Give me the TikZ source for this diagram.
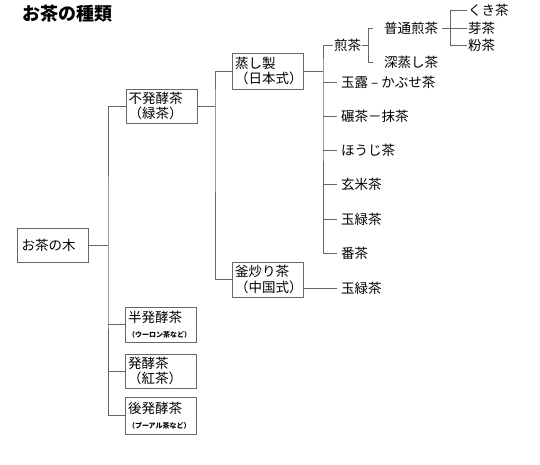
\documentclass[tikz,border=0pt]{standalone}
\usepackage{fontspec}
\setmainfont{Noto Sans CJK JP}
\begin{document}
\begin{tikzpicture}[x=1pt,y=-1pt,
  box/.style={draw=black!60, line width=0.8pt, text width=66pt, inner xsep=2.5pt, inner ysep=0pt,
    minimum height=35pt, align=left, font=\fontsize{13.5}{15.5}\selectfont},
  lbl/.style={anchor=west, inner xsep=4pt, inner ysep=2pt, font=\fontsize{13.5}{15.5}\selectfont},
  conn/.style={draw=black!60, line width=0.8pt},
  small/.style={font=\fontsize{7}{8}\selectfont\bfseries}
]
\useasboundingbox (0,0) rectangle (540,465);
\node[anchor=west, inner sep=0pt, font=\fontsize{18}{20}\selectfont\bfseries] (title) at (22,14) {お茶の種類};

% boxes
\node[box, text width=63pt, inner xsep=4pt, minimum height=34pt] (tree) at (53,245) {お茶の木};
\node[box, minimum height=34pt] (fuh) at (161.5,106) {不発酵茶\\（緑茶）};
\node[box, minimum height=36pt] (mushi) at (268,71) {蒸し製\\（日本式）};
\node[box] (kama) at (268,279.5) {釜炒り茶\\（中国式）};
\node[box] (han) at (161,324.5) {半発酵茶\\{\fontsize{7}{8}\selectfont\bfseries（ウーロン茶など）}};
\node[box, minimum height=34pt] (hak) at (161,371) {発酵茶\\（紅茶）};
\node[box, minimum height=37pt] (kou) at (161,415.5) {後発酵茶\\{\fontsize{7}{8}\selectfont\bfseries（プーアル茶など）}};

% junctions
\coordinate (j1) at (108,245);
\coordinate (j2) at (215,106);
\coordinate (j3) at (323,71);
\coordinate (j4) at (368,45);
\coordinate (j5) at (450,28);

% labels
\node[lbl, inner xsep=1pt] (sencha) at (333,45) {煎茶};
\node[lbl, inner xsep=1pt] (futsu) at (383,28) {普通煎茶};
\node[lbl, inner xsep=1pt] (fukamushi) at (383,62) {深蒸し茶};
\node[lbl, inner xsep=1pt] (kuki) at (467,10) {くき茶};
\node[lbl, inner xsep=1pt] (mecha) at (467,28) {芽茶};
\node[lbl, inner xsep=1pt] (kona) at (467,45) {粉茶};
\node[lbl] (gyokuro) at (337,82) {玉露 – かぶせ茶};
\node[lbl] (tencha) at (337,116) {碾茶－抹茶};
\node[lbl] (houji) at (337,150) {ほうじ茶};
\node[lbl] (genmai) at (337,184) {玄米茶};
\node[lbl] (gyoku1) at (337,219) {玉緑茶};
\node[lbl] (bancha) at (337,253) {番茶};
\node[lbl] (gyoku2) at (337,288) {玉緑茶};

% connectors level 1
\draw[conn] (tree.east) -- (j1);
\draw[conn] (fuh.west) -| (j1) |- (kou.west);
\draw[conn] (han.west -| j1) -- (han.west);
\draw[conn] (hak.west -| j1) -- (hak.west);
% level 2
\draw[conn] (fuh.east) -- (j2);
\draw[conn] (mushi.west) -| (j2) |- (kama.west);
% level 3
\draw[conn] (mushi.east) -- (j3);
\draw[conn] (sencha.west) -| (j3) |- (bancha.west);
\draw[conn] (gyokuro.west -| j3) -- (gyokuro.west);
\draw[conn] (tencha.west -| j3) -- (tencha.west);
\draw[conn] (houji.west -| j3) -- (houji.west);
\draw[conn] (genmai.west -| j3) -- (genmai.west);
\draw[conn] (gyoku1.west -| j3) -- (gyoku1.west);
\draw[conn] (kama.east |- gyoku2.west) -- (gyoku2.west);
% sencha
\draw[conn] (sencha.east) -- (j4);
\draw[conn, shorten >=10pt] (j4) |- (futsu.west);
\draw[conn, shorten >=10pt] (j4) |- (fukamushi.west);
\draw[conn, shorten <=3pt] (futsu.east) -- (j5);
\draw[conn] (j5) |- (kuki.west);
\draw[conn] (j5) -- (mecha.west);
\draw[conn] (j5) |- (kona.west);
\end{tikzpicture}
\end{document}
